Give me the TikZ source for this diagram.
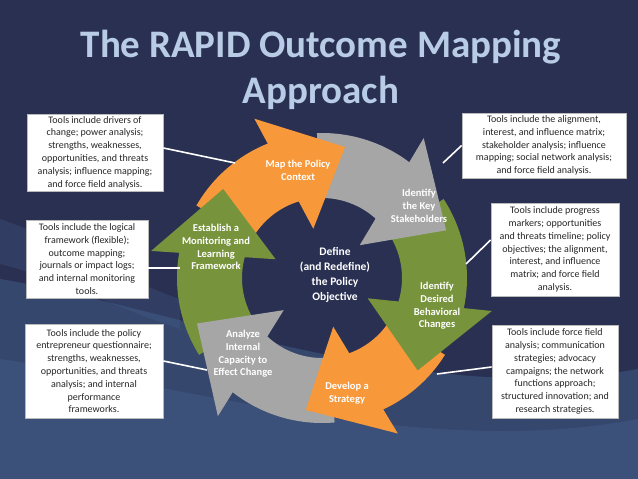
\documentclass[tikz,border=0pt]{standalone}
\usepackage{fontspec}
\setmainfont{Carlito}
\usetikzlibrary{positioning}
\definecolor{navy}{RGB}{42,48,82}
\definecolor{wave}{RGB}{78,114,162}
\definecolor{ttl}{RGB}{184,204,230}
\definecolor{orng}{RGB}{247,152,58}
\definecolor{gry}{RGB}{166,166,166}
\definecolor{grn}{RGB}{119,147,60}

\begin{document}
\begin{tikzpicture}[x=1pt, y=1pt,
  tool/.style={draw=gray!55, fill=white, line width=0.8pt, align=center, inner sep=1pt, text=black!85, font=\fontsize{10}{12.8}\selectfont},
  stage/.style={align=center, text=white, font=\bfseries\fontsize{10.5}{12.8}\selectfont},
  link/.style={draw=white, line width=1.6pt}]
\useasboundingbox (0,0) rectangle (638,479);
% background
\fill[navy] (0,0) rectangle (638,479);
\fill[wave, opacity=.35] (0,200) .. controls (180,170) and (420,70) .. (638,110) -- (638,0) -- (0,0) -- cycle;
\fill[wave, opacity=.25] (0,120) .. controls (200,90) and (430,20) .. (638,60) -- (638,0) -- (0,0) -- cycle;
\fill[wave, opacity=.2] (0,260) .. controls (60,240) and (120,200) .. (180,180) -- (180,150) .. controls (120,170) and (60,200) .. (0,215) -- cycle;

% title
\node[text=ttl, font=\bfseries\fontsize{39}{46}\selectfont, align=center] (title) at (321,409) {The RAPID Outcome Mapping\\Approach};

% cycle: bodies first, heads on top
\coordinate (C) at (322,201);
\foreach \a/\t/\col in {80/150/orng, 21/92/gry, -44/33/grn, -97/-32/orng, -160/-85/gry, 138/212/grn}
  \fill[\col, shift={(C)}] (\t:145) arc[start angle=\t, end angle=\a+31, radius=145] -- (\a+26:80) arc[start angle=\a+26, end angle=\t, radius=80] -- cycle;
\foreach \a/\col in {80/orng, 21/gry, -44/grn, -97/orng, -160/gry, 138/grn}
  \fill[\col, shift={(C)}] (\a+33:173) -- (\a:133) -- (\a+20:50) -- cycle;

\node[stage] (map) at (298,309) {Map the Policy\\Context};
\node[stage] (key) at (419,273) {Identify\\the Key\\Stakeholders};
\node[stage] (desired) at (437,173) {Identify\\Desired\\Behavioral\\Changes};
\node[stage] (develop) at (347,86) {Develop a\\Strategy};
\node[stage] (analyze) at (243,125) {Analyze\\Internal\\Capacity to\\Effect Change};
\node[stage] (establish) at (216,232) {Establish a\\Monitoring and\\Learning\\Framework};
\node[stage, font=\bfseries\fontsize{11.5}{15.2}\selectfont] (define) at (335,204) {Define\\(and Redefine)\\the Policy\\Objective};

% tool boxes
\node[tool, minimum width=136pt, minimum height=77pt] (drivers) at (95,326.5) {Tools include drivers of\\change; power analysis;\\strengths, weaknesses,\\opportunities, and threats\\analysis; influence mapping;\\and force field analysis.};
\node[tool, minimum width=122pt, minimum height=78pt] (logframe) at (87,220) {Tools include the logical\\framework (flexible);\\outcome mapping;\\journals or impact logs;\\and internal monitoring\\tools.};
\node[tool, minimum width=138pt, minimum height=94pt] (entrepreneur) at (94,108) {Tools include the policy\\entrepreneur questionnaire;\\strengths, weaknesses,\\opportunities, and threats\\analysis; and internal\\performance\\frameworks.};
\node[tool, minimum width=164pt, minimum height=65pt] (alignment) at (544,333.5) {Tools include the alignment,\\interest, and influence matrix;\\stakeholder analysis; influence\\mapping; social network analysis;\\and force field analysis.};
\node[tool, minimum width=128pt, minimum height=93pt] (progress) at (555,229.5) {Tools include progress\\markers; opportunities\\and threats timeline; policy\\objectives; the alignment,\\interest, and influence\\matrix; and force field\\analysis.};
\node[tool, minimum width=126pt, minimum height=93pt] (forcefield) at (555,107.5) {Tools include force field\\analysis; communication\\strategies; advocacy\\campaigns; the network\\functions approach;\\structured innovation; and\\research strategies.};

% connectors
\coordinate (c1) at (235,316);
\coordinate (c2) at (180,211);
\coordinate (c3) at (207,109);
\coordinate (c4) at (443,316);
\coordinate (c5) at (466,215);
\coordinate (c6) at (437,105);
\draw[link] ([yshift=4.5pt]drivers.east) -- (c1);
\draw[link] ([yshift=-9pt]logframe.east) -- (c2);
\draw[link] ([yshift=10pt]entrepreneur.east) -- (c3);
\draw[link] (alignment.west) -- (c4);
\draw[link] ([yshift=9.5pt]progress.west) -- (c5);
\draw[link] ([yshift=4.5pt]forcefield.west) -- (c6);
\end{tikzpicture}
\end{document}
